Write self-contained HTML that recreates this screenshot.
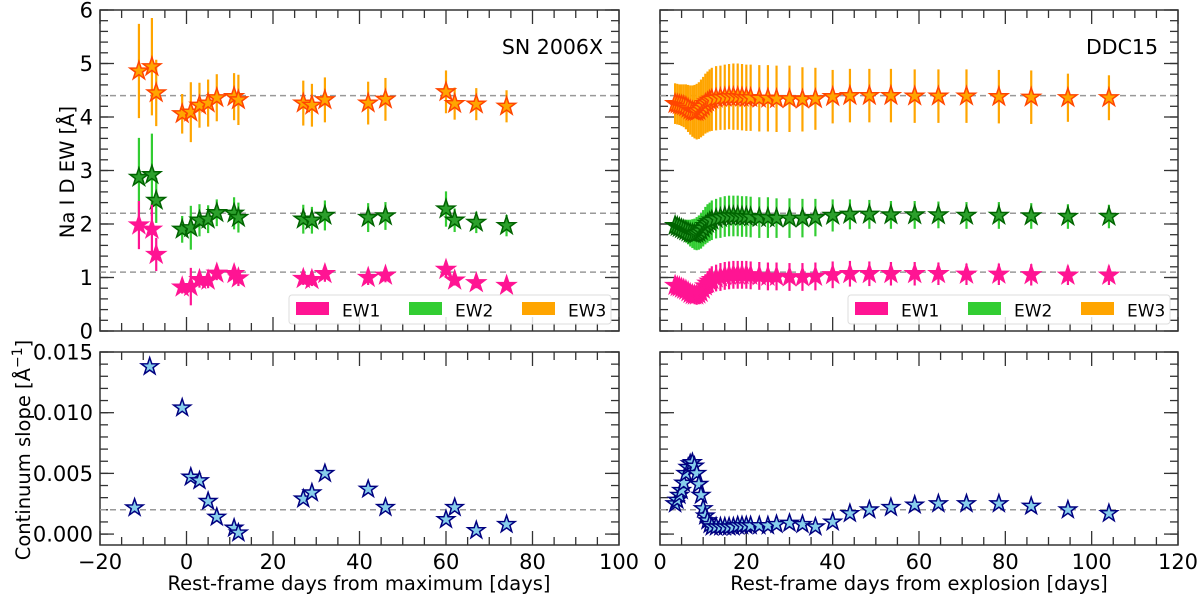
<!DOCTYPE html>
<html><head><meta charset="utf-8">
<style>
html,body{margin:0;padding:0;background:#fff;}
svg{display:block;font-family:"DejaVu Sans","Liberation Sans",sans-serif;}
</style></head>
<body>
<svg id="chart" width="1200" height="601" viewBox="0 0 1200 601" xmlns="http://www.w3.org/2000/svg">
<text x="0" y="0" transform="translate(74,172) rotate(-90)" text-anchor="middle" font-size="19.5">Na I D EW [Å]</text>
<text x="0" y="0" transform="translate(30,450) rotate(-90)" text-anchor="middle" font-size="19.5">Continuum slope [Å<tspan dy="-8" font-size="14">−1</tspan><tspan dy="8">]</tspan></text>
<text x="359" y="590" text-anchor="middle" font-size="19.5">Rest-frame days from maximum [days]</text>
<text x="919" y="590" text-anchor="middle" font-size="19.5">Rest-frame days from explosion [days]</text>
</svg>
<script>
// ---- SN 2006X (left) data ----
const snDays = [-11,-8,-7,-1,1,3,5,7,11,12,27,29,32,42,46,60,62,67,74];
const snEW1 = [1.98,1.90,1.43,0.82,0.83,0.96,0.95,1.08,1.07,0.99,0.98,0.96,1.07,1.00,1.04,1.15,0.95,0.90,0.85];
const snEW1err = [0.45,0.46,0.31,0.12,0.35,0.15,0.15,0.13,0.15,0.15,0.12,0.12,0.15,0.14,0.13,0.15,0.1,0.1,0.08];
const snEW2 = [2.87,2.92,2.44,1.90,1.93,2.07,2.09,2.21,2.20,2.12,2.09,2.07,2.16,2.12,2.15,2.28,2.07,2.03,1.97];
const snEW2err = [0.74,0.77,0.42,0.25,0.41,0.30,0.26,0.25,0.30,0.28,0.27,0.25,0.28,0.27,0.26,0.33,0.22,0.2,0.2];
const snEW3 = [4.86,4.94,4.45,4.06,4.09,4.22,4.26,4.36,4.38,4.32,4.26,4.22,4.32,4.26,4.33,4.47,4.25,4.24,4.20];
const snEW3err = [0.88,0.91,0.62,0.37,0.56,0.42,0.44,0.44,0.44,0.47,0.42,0.40,0.42,0.40,0.40,0.40,0.30,0.30,0.30];
const snSlopeDays = [-12,-8.5,-1,1,3,5,7,11,12,27,29,32,42,46,60,62,67,74];
const snSlope = [0.00217,0.0138,0.0104,0.0047,0.0044,0.0027,0.0014,0.0005,0.0001,0.0029,0.0034,0.0050,0.0037,0.0022,0.0012,0.0022,0.0003,0.0008];
// ---- DDC15 (right) data ----
const ddDays = [3.5,4,4.5,5,5.5,6,6.5,7,7.5,8,8.5,9,9.5,10,10.5,11,11.5,12,13,14,15,16,17,18,19,20,21,23,25,27,30,33,36,40,44,48.5,53.5,59,64.5,71,78.5,86,94.5,104];
const ddEW1 = [0.85,0.83,0.82,0.80,0.78,0.76,0.73,0.70,0.68,0.67,0.67,0.69,0.72,0.78,0.84,0.89,0.93,0.96,0.99,1.01,1.03,1.04,1.05,1.05,1.05,1.05,1.04,1.03,1.02,1.02,1.01,1.01,1.02,1.05,1.07,1.07,1.07,1.07,1.07,1.06,1.06,1.05,1.04,1.04];
const ddEW2 = [1.97,1.95,1.93,1.91,1.89,1.87,1.85,1.83,1.82,1.81,1.82,1.84,1.87,1.92,1.97,2.01,2.04,2.07,2.10,2.12,2.14,2.15,2.15,2.15,2.14,2.14,2.13,2.12,2.12,2.11,2.11,2.11,2.12,2.16,2.18,2.18,2.17,2.17,2.17,2.16,2.16,2.15,2.14,2.14];
const ddEW3 = [4.25,4.24,4.23,4.22,4.21,4.19,4.16,4.13,4.11,4.10,4.10,4.12,4.16,4.20,4.25,4.28,4.31,4.33,4.35,4.36,4.37,4.38,4.38,4.38,4.37,4.36,4.36,4.35,4.35,4.34,4.34,4.33,4.34,4.38,4.40,4.40,4.40,4.39,4.39,4.39,4.38,4.37,4.36,4.36];
const ddEW1err = [0.1,0.1,0.1,0.11,0.12,0.13,0.14,0.15,0.16,0.17,0.18,0.19,0.2,0.21,0.22,0.23,0.24,0.25,0.25,0.26,0.26,0.26,0.26,0.26,0.26,0.26,0.26,0.26,0.26,0.26,0.26,0.26,0.26,0.25,0.24,0.23,0.22,0.22,0.21,0.2,0.2,0.2,0.18,0.18];
const ddEW2err = [0.15,0.15,0.15,0.17,0.19,0.21,0.23,0.25,0.27,0.29,0.31,0.32,0.33,0.34,0.35,0.36,0.36,0.37,0.37,0.38,0.38,0.38,0.38,0.38,0.38,0.38,0.38,0.38,0.38,0.37,0.37,0.36,0.35,0.3,0.28,0.27,0.26,0.26,0.25,0.25,0.25,0.24,0.23,0.22];
const ddEW3err = [0.38,0.38,0.38,0.39,0.4,0.42,0.44,0.46,0.48,0.5,0.52,0.53,0.54,0.55,0.56,0.57,0.58,0.59,0.6,0.6,0.61,0.61,0.62,0.62,0.62,0.62,0.62,0.62,0.62,0.62,0.62,0.6,0.58,0.5,0.5,0.5,0.5,0.5,0.5,0.5,0.5,0.5,0.45,0.42];
const ddSlope = [0.0025,0.0028,0.0032,0.0036,0.0042,0.0050,0.0055,0.0058,0.0059,0.0056,0.0050,0.0041,0.0032,0.0021,0.0015,0.0011,0.0008,0.0006,0.0006,0.0006,0.0006,0.0006,0.0006,0.0007,0.0007,0.0007,0.0007,0.0007,0.0007,0.0008,0.0009,0.0008,0.0006,0.0010,0.0017,0.0020,0.0022,0.0024,0.0025,0.0025,0.0025,0.0023,0.0020,0.0017];
// ---- axis ticks / reference lines ----
const ewTickLabels = ["0","1","2","3","4","5","6"];
const slopeTickLabels = ["0.000","0.005","0.010","0.015"];
const leftXTickLabels = ["−20","0","20","40","60","80","100"];
const rightXTickLabels = ["0","20","40","60","80","100","120"];
const ewRefLines = [4.4,2.2,1.1];
const slopeRef = [0.002];

const NS="http://www.w3.org/2000/svg";
const svg=document.getElementById('chart');
function mk(tag,attrs,parent){const e=document.createElementNS(NS,tag);for(const k in attrs)e.setAttribute(k,attrs[k]);(parent||svg).appendChild(e);return e;}

const panels={
  tl:{x0:100,x1:619,y0:10,y1:331,xmin:-20,xmax:100,ymin:0,ymax:6},
  tr:{x0:660,x1:1178,y0:10,y1:331,xmin:0,xmax:120,ymin:0,ymax:6},
  bl:{x0:100,x1:619,y0:352,y1:545,xmin:-20,xmax:100,ymin:-0.0009,ymax:0.015},
  br:{x0:660,x1:1178,y0:352,y1:545,xmin:0,xmax:120,ymin:-0.0009,ymax:0.015}
};
function sx(p,v){return p.x0+(v-p.xmin)/(p.xmax-p.xmin)*(p.x1-p.x0);}
function sy(p,v){return p.y1-(v-p.ymin)/(p.ymax-p.ymin)*(p.y1-p.y0);}

function star(cx,cy,r){let pts=[];for(let i=0;i<10;i++){const rr=i%2?r*0.39:r;const a=-Math.PI/2+i*Math.PI/5;pts.push((cx+rr*Math.cos(a)).toFixed(1)+','+(cy+rr*Math.sin(a)).toFixed(1));}return pts.join(' ');}

function axes(p,name,xLabels,xStep,xMinor,yVals,yLabels,yMinor,showY){
  const g=mk('g',{});
  
  
  for(let v=p.xmin;v<=p.xmax+1e-9;v+=xMinor){const X=sx(p,v);const major=Math.abs((v-p.xmin)/xStep-Math.round((v-p.xmin)/xStep))<1e-6;const L=major?14:8;
    mk('line',{x1:X,x2:X,y1:p.y1,y2:p.y1-L,stroke:'#333','stroke-width':1.3},g);
    mk('line',{x1:X,x2:X,y1:p.y0,y2:p.y0+L,stroke:'#333','stroke-width':1.3},g);}
  for(let v=p.ymin<0?0:p.ymin;v<=p.ymax+1e-9;v+=yMinor){const Y=sy(p,v);
    mk('line',{x1:p.x0,x2:p.x0+8,y1:Y,y2:Y,stroke:'#333','stroke-width':1.3},g);
    mk('line',{x1:p.x1,x2:p.x1-8,y1:Y,y2:Y,stroke:'#333','stroke-width':1.3},g);}
  yVals.forEach((v,i)=>{const Y=sy(p,v);
    mk('line',{x1:p.x0,x2:p.x0+14,y1:Y,y2:Y,stroke:'#333','stroke-width':1.3},g);
    mk('line',{x1:p.x1,x2:p.x1-14,y1:Y,y2:Y,stroke:'#333','stroke-width':1.3},g);
    if(showY){const t=mk('text',{x:p.x0-7,y:Y+7.5,'text-anchor':'end','font-size':21},g);t.textContent=yLabels[i];
      
      }
  });
  if(xLabels){xLabels.forEach((lab,i)=>{const X=sx(p,p.xmin+i*xStep);const t=mk('text',{x:X,y:569,'text-anchor':'middle','font-size':21},g);t.textContent=lab;
    
    });}
  const fr=mk('rect',{x:p.x0,y:p.y0,width:p.x1-p.x0,height:p.y1-p.y0,fill:'none',stroke:'#333','stroke-width':1.5},g);
  
  
}
function refLines(p,vals){vals.forEach(v=>{const l=mk('line',{x1:p.x0,x2:p.x1,y1:sy(p,v),y2:sy(p,v),stroke:'#999','stroke-width':1.5,'stroke-dasharray':'6,4'});
  
  });}
function series(p,days,vals,errs,barCol,fill,edge,r,name){
  const g=mk('g',{});
  
  
  if(errs)days.forEach((d,i)=>{const X=sx(p,d);mk('line',{x1:X,x2:X,y1:sy(p,vals[i]-errs[i]),y2:sy(p,vals[i]+errs[i]),stroke:barCol,'stroke-width':2.2},g);});
  days.forEach((d,i)=>{const s=mk('polygon',{points:star(sx(p,d),sy(p,vals[i]),r),fill:fill,stroke:edge,'stroke-width':1.5,'stroke-linejoin':'miter'},g);
    
    });
}
function legend(x0,name){
  const g=mk('g',{});
  
  
  mk('rect',{x:x0,y:295,width:322,height:29,rx:3,fill:'#fff','fill-opacity':0.85,stroke:'#ddd','stroke-width':1},g);
  const cols=['#ff1493','#32cd32','#ffa500'],labs=['EW1','EW2','EW3'];
  for(let i=0;i<3;i++){const px=x0+7+i*113;
    const r=mk('rect',{x:px,y:302,width:33,height:13,fill:cols[i]},g);
    
    
    const t=mk('text',{x:px+46,y:316.5,'font-size':17},g);t.textContent=labs[i];
    
    }
}

const ewTickVals=ewTickLabels.map(Number);
const slopeTickVals=slopeTickLabels.map(Number);
axes(panels.tl,'sn2006x-ew',null,20,5,ewTickVals,ewTickLabels,0.2,true);
axes(panels.tr,'ddc15-ew',null,20,5,ewTickVals,ewTickLabels,0.2,false);
axes(panels.bl,'sn2006x-slope',leftXTickLabels,20,5,slopeTickVals,slopeTickLabels,0.001,true);
axes(panels.br,'ddc15-slope',rightXTickLabels,20,5,slopeTickVals,slopeTickLabels,0.001,false);
refLines(panels.tl,ewRefLines);refLines(panels.tr,ewRefLines);
refLines(panels.bl,slopeRef);refLines(panels.br,slopeRef);

series(panels.tl,snDays,snEW3,snEW3err,'#ffa500','#ffa500','#ff4500',9.5,'sn-ew3');
series(panels.tl,snDays,snEW2,snEW2err,'#32cd32','#2ca02c','#006400',9.5,'sn-ew2');
series(panels.tl,snDays,snEW1,snEW1err,'#ff1493','#ff1493','#ff1493',9.5,'sn-ew1');
series(panels.tr,ddDays,ddEW3,ddEW3err,'#ffa500','#ffa500','#ff4500',9.5,'ddc-ew3');
series(panels.tr,ddDays,ddEW2,ddEW2err,'#32cd32','#2ca02c','#006400',9.5,'ddc-ew2');
series(panels.tr,ddDays,ddEW1,ddEW1err,'#ff1493','#ff1493','#ff1493',9.5,'ddc-ew1');
series(panels.bl,snSlopeDays,snSlope,null,null,'#87ceeb','#000080',9,'sn-slope');
series(panels.br,ddDays,ddSlope,null,null,'#87ceeb','#000080',9,'ddc-slope');

legend(289,'legend-sn2006x');
legend(848,'legend-ddc15');
const t1=mk('text',{x:603,y:54,'text-anchor':'end','font-size':20.5});t1.textContent='SN 2006X';


const t2=mk('text',{x:1158,y:54,'text-anchor':'end','font-size':20.5});t2.textContent='DDC15';


</script>
</body></html>
